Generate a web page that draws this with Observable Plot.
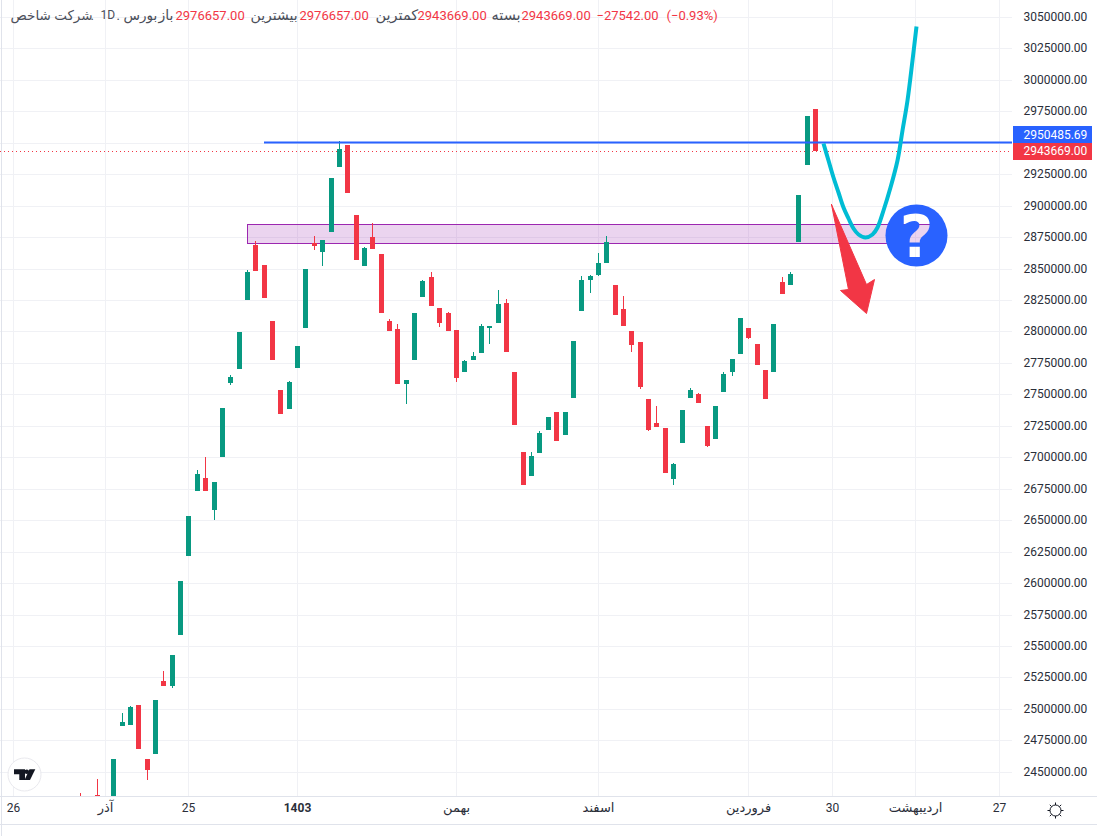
<!DOCTYPE html>
<html lang="fa">
<head>
<meta charset="utf-8">
<script src="https://cdn.jsdelivr.net/npm/d3@7"></script>
<script src="https://cdn.jsdelivr.net/npm/@observablehq/plot@0.6"></script>
<style>
html,body{margin:0;padding:0;background:#fff;}
#wrap{position:relative;width:1108px;height:836px;overflow:hidden;}
#wrap>svg{display:block;}
.icon{position:absolute;}
</style>
</head>
<body>
<div id="wrap"></div>
<script>
const sessions = [-4,-2,...d3.range(0,85)];
const opens = [2423700,2431600,2419700,2486500,2487300,2503100,2460200,2464200,2522200,2518200,2558800,2621600,2673200,2683500,2658100,2700200,2759000,2770200,2825000,2868700,2852800,2808300,2753500,2738400,2770900,2802700,2870300,2863100,2879000,2930700,2948200,2892500,2852000,2875000,2861500,2808300,2801900,2758200,2777300,2827400,2843300,2818600,2814700,2801100,2767800,2777300,2782900,2802700,2806700,2822600,2767800,2704200,2685100,2703400,2721700,2736000,2717700,2747100,2816200,2840900,2844900,2854400,2836900,2817800,2800400,2791600,2746300,2727200,2723300,2682700,2711300,2747100,2750300,2724900,2714500,2751900,2767800,2782100,2802700,2790000,2769400,2767800,2839300,2836900,2871100,2932300,2976657];
const highs = [2433200,2444300,2460200,2496800,2502400,2503100,2460200,2507100,2530200,2542900,2601700,2653300,2689900,2700200,2680400,2739200,2765400,2799600,2848800,2871900,2852800,2808300,2753500,2760600,2788400,2849600,2875800,2872700,2921900,2951300,2948200,2892500,2867100,2886200,2861500,2809900,2805900,2761400,2814700,2840900,2847200,2818600,2815400,2801100,2777300,2783700,2805900,2804300,2832900,2825800,2767800,2704200,2704200,2720900,2732000,2736000,2736000,2792400,2844100,2844900,2862300,2875800,2836900,2828200,2800400,2791600,2746300,2740800,2723300,2695500,2737600,2755100,2751100,2724900,2740800,2767800,2778100,2810700,2802700,2790000,2769400,2805900,2843300,2847200,2908400,2971200,2976657];
const lows = [2419700,2427700,2419700,2486500,2487300,2468200,2443500,2464200,2518200,2516700,2558800,2621600,2673200,2673200,2650200,2700200,2757400,2770200,2825000,2848000,2826600,2777300,2734400,2738400,2770900,2802700,2864700,2852000,2879000,2930700,2910000,2856800,2852000,2865500,2814700,2800400,2758200,2742300,2777300,2827400,2820200,2803500,2800400,2759800,2767800,2777300,2782900,2790000,2806700,2783700,2725700,2678000,2685100,2703400,2721700,2712900,2717700,2747100,2816200,2830500,2844100,2854400,2813100,2804300,2783700,2754300,2720900,2724100,2687500,2678000,2711300,2747100,2743100,2708200,2714500,2751900,2764600,2782100,2794000,2773300,2746300,2767800,2829800,2836900,2871100,2932300,2943669];
const closes = [2419700,2427700,2460200,2489600,2501600,2468200,2451500,2507100,2518200,2542900,2601700,2653300,2686700,2673200,2680400,2739200,2763800,2799600,2847200,2848000,2826600,2777300,2734400,2759800,2788400,2849600,2867900,2872700,2921900,2945000,2910000,2856800,2866300,2865500,2814700,2800400,2758200,2761400,2814700,2840100,2820200,2806700,2800400,2763000,2776500,2780500,2804300,2804300,2821800,2783700,2725700,2678000,2701000,2719300,2732000,2712900,2736000,2792400,2840900,2844100,2854400,2871100,2813100,2804300,2789200,2755800,2721700,2724100,2687500,2694700,2737600,2753500,2743100,2709000,2740800,2766200,2778100,2810700,2794800,2773300,2746300,2805900,2829800,2845600,2908400,2971200,2943669];

const priceTicks = d3.range(2450000, 3050001, 25000);
const numberTicks = [-12,9,86,106];
const numberLabels = ["26","25","30","27"];
const monthTicks = [-1,41,58,76,96];
const monthLabels = ["آذر","بهمن","اسفند","فروردین","اردیبهشت"];
const yearTick = [22];
const yearLabel = "1403";

const closePrice = 2943669;
const levelPrice = 2950485.69;
const levelStart = 18;
const zoneStart = 16, zoneEnd = 97.9, zoneTop = 2884600, zoneBottom = 2869500;

const curveX = [84.96,85.56,86.16,86.76,87.35,87.95,88.55,89.15,89.95,90.75,91.35,92.14,92.94,93.74,94.34,94.94,95.54,96.02];
const curveY = [2949507,2936236,2922966,2911046,2899126,2889907,2881962,2877432,2875286,2877432,2883232,2896503,2915019,2936236,2960076,2983916,3015702,3042960];
const arrowX = [85.92,90.07,91.06,90.07,86.96,87.95,85.92];
const arrowY = [2901033,2837699,2841672,2814893,2832931,2833487,2901033];
const badge = {x:96.04, y:2876900};

const GRAY="#4a4e59", REDTEXT="#F23645";
const headerParts = [
  ["شرکت شاخص",10,GRAY,13.5],[".",90,GRAY,13],["1D",100,GRAY,12],[".",116,GRAY,13],["بورس",123,GRAY,13.5],
  ["باز",158,GRAY,14],["2976657.00",175,REDTEXT,13],["بیشترین",250,GRAY,14],["2976657.00",299,REDTEXT,13],
  ["کمترین",375,GRAY,14.5],["2943669.00",417,REDTEXT,13],["بسته",491,GRAY,14.5],["2943669.00",521,REDTEXT,13],
  ["−27542.00",596,REDTEXT,13],["(−0.93%)",666,REDTEXT,13]
];

const GREEN="#089981", RED="#F23645", BLUE="#2962FF", GRID="#f0f1f5", EDGE="#e0e3eb", INK="#2a2e39";
const FONT="Roboto, 'DejaVu Sans', sans-serif";
const candles = sessions.map((d,k)=>({d,o:opens[k],h:highs[k],l:lows[k],c:closes[k]}));
const colorOf = r => r.c>=r.o ? GREEN : RED;
const xDomain=[-13.558,107.55], yDomain=[2430822,3063382];
const xRight=xDomain[1], xEdge=117.71, xLeftEdge=-13.38, yBottom=yDomain[0], yFooter=2408574, yPageEnd=2399000;
const xTagStart=107.66, xTagEnd=117.17, xTagText=108.86;
const blueTag=[2949748,2963255], redTag=[2936240,2949748], blueTagMid=2956300;

const chart = Plot.plot({
  width:1108, height:836,
  marginLeft:0, marginRight:96, marginTop:0, marginBottom:40,
  style:{background:"#fff", fontFamily:FONT, overflow:"visible"},
  x:{domain:xDomain, range:[0,1012], round:true, axis:null},
  y:{domain:yDomain, range:[796,0], round:true, axis:null},
  marks:[
    Plot.ruleY(priceTicks,{stroke:GRID}),
    Plot.ruleX([...numberTicks,...monthTicks,...yearTick],{stroke:GRID}),
    Plot.rect([0],{x1:zoneStart,x2:zoneEnd,y1:zoneBottom,y2:zoneTop,fill:"#9C27B0",fillOpacity:0.2,stroke:"#9C27B0",strokeWidth:1,dx:0.5,dy:-0.5}),
    Plot.ruleY([closePrice],{x1:xDomain[0],x2:xRight,stroke:RED,strokeWidth:1,strokeDasharray:"1,3"}),
    Plot.ruleX(candles,{x:"d",y1:"l",y2:"h",stroke:colorOf,strokeWidth:1,clip:true}),
    Plot.ruleX(candles,{x:"d",y1:"o",y2:"c",stroke:colorOf,strokeWidth:5,clip:true}),
    Plot.ruleY([levelPrice],{x1:levelStart,x2:xRight,stroke:BLUE,strokeWidth:2}),
    Plot.dot([badge],{x:"x",y:"y",r:31,fill:BLUE}),
    Plot.line(curveX.map((x,i)=>({x,y:curveY[i]})),{x:"x",y:"y",stroke:"#00BCD4",strokeWidth:4,curve:"catmull-rom",strokeLinecap:"butt"}),
    Plot.line(arrowX.map((x,i)=>({x,y:arrowY[i]})),{x:"x",y:"y",fill:RED,stroke:RED,strokeWidth:1}),
    // price scale
    Plot.axisY(priceTicks.filter(d=>d!==2950000),{anchor:"right",tickSize:0,tickPadding:11,label:null,tickFormat:d=>d.toFixed(2),fontSize:12,fill:INK,fontFamily:FONT}),
    Plot.rect([0],{x1:xTagStart,x2:xTagEnd,y1:blueTag[0],y2:blueTag[1],fill:BLUE}),
    Plot.rect([0],{x1:xTagStart,x2:xTagEnd,y1:redTag[0],y2:redTag[1],fill:RED}),
    Plot.text([levelPrice.toFixed(2)],{x:xTagText,y:blueTagMid,text:d=>d,textAnchor:"start",fill:"#fff",fontSize:12,fontFamily:FONT}),
    Plot.text([closePrice.toFixed(2)],{x:xTagText,y:closePrice,text:d=>d,textAnchor:"start",fill:"#fff",fontSize:12,fontFamily:FONT}),
    // time scale
    Plot.ruleY([yBottom,yFooter],{x1:xDomain[0],x2:xEdge,stroke:EDGE}),
    Plot.ruleX([xLeftEdge],{y1:yPageEnd,y2:yDomain[1],stroke:EDGE}),
    Plot.axisX(numberTicks,{anchor:"bottom",tickSize:0,tickPadding:7,label:null,tickFormat:d=>numberLabels[numberTicks.indexOf(d)],fontSize:12,fill:INK,fontFamily:FONT}),
    Plot.axisX(monthTicks,{anchor:"bottom",tickSize:0,tickPadding:6,label:null,tickFormat:d=>monthLabels[monthTicks.indexOf(d)],fontSize:13,fill:INK,fontFamily:FONT}),
    Plot.axisX(yearTick,{anchor:"bottom",tickSize:0,tickPadding:7,label:null,tickFormat:()=>yearLabel,fontSize:12,fontWeight:"bold",fill:INK,fontFamily:FONT}),
    // header
    ...headerParts.map(([t,left,c,size])=>Plot.text([t],{text:d=>d,frameAnchor:"top-left",lineAnchor:"middle",dx:left,dy:15,fill:c,fontSize:size,fontFamily:FONT}))
  ]
});

// the question mark is a hole through the badge, as in the reference
const NS="http://www.w3.org/2000/svg";
const defs=document.createElementNS(NS,"defs");
const mask=document.createElementNS(NS,"mask");
mask.setAttribute("id","qmask");mask.setAttribute("maskUnits","userSpaceOnUse");
mask.setAttribute("x",0);mask.setAttribute("y",0);mask.setAttribute("width",1108);mask.setAttribute("height",836);
const mr=document.createElementNS(NS,"rect");
mr.setAttribute("width",1108);mr.setAttribute("height",836);mr.setAttribute("fill","#fff");
const mt=document.createElementNS(NS,"text");
mt.textContent="?";
mt.setAttribute("x",chart.scale("x").apply(badge.x));
mt.setAttribute("y",chart.scale("y").apply(badge.y)+21);
mt.setAttribute("text-anchor","middle");
mt.setAttribute("font-family","DejaVu Sans");mt.setAttribute("font-weight","bold");mt.setAttribute("font-size","58");mt.setAttribute("fill","#000");
mask.append(mr,mt);defs.append(mask);chart.prepend(defs);
chart.querySelector('g[aria-label="dot"]').setAttribute("mask","url(#qmask)");

const wrap=document.getElementById("wrap");
wrap.append(chart);
wrap.insertAdjacentHTML("beforeend",`
<svg class="icon" style="left:7px;top:757px" width="35" height="35" viewBox="0 0 35 35">
 <circle cx="17.5" cy="17.5" r="16.5" fill="#fff" stroke="#e9e9ee" stroke-width="1"/>
 <path d="M7 12.3H18V23H12.3V17.3H7Z" fill="#131722"/>
 <circle cx="19.8" cy="14.7" r="2.3" fill="#131722"/>
 <path d="M22.5 12.3H28.3L23 23H17.5Z" fill="#131722"/>
</svg>
<svg class="icon" style="left:1045px;top:800px" width="21" height="21" viewBox="0 0 21 21">
 <circle cx="10.5" cy="10.5" r="5.5" fill="none" stroke="#131722"/>
 <path d="M10.5 2.5V5M10.5 16V18.500M2.5 10.500H5M16 10.500H18.500M4.800 4.800L6.600 6.600M14.400 14.400L16.200 16.200M16.200 4.800L14.400 6.600M6.600 14.400L4.800 16.200" stroke="#131722" fill="none"/>
</svg>`);
</script>
</body>
</html>
